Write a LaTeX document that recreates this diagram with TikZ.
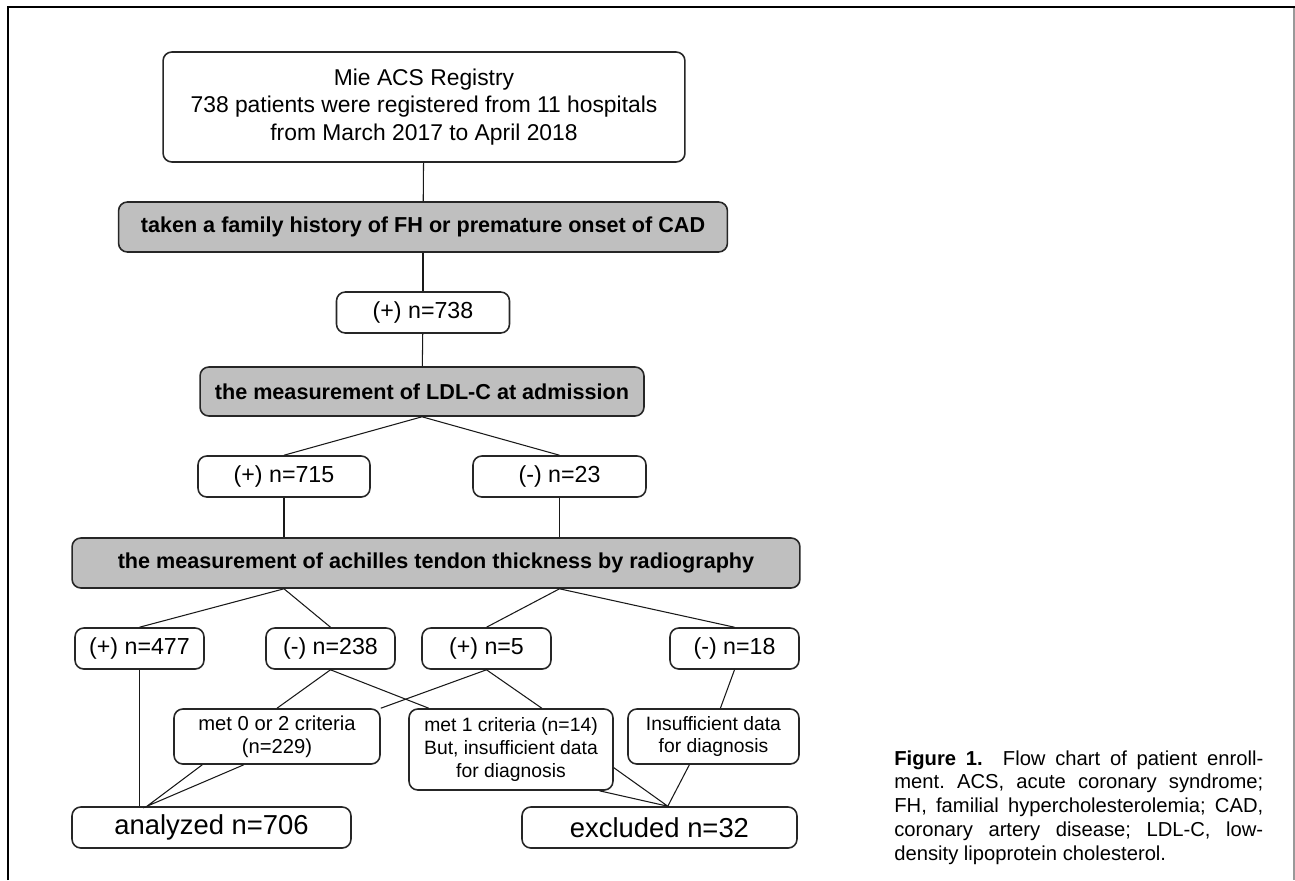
\documentclass[tikz,border=0pt]{standalone}
\usepackage{fontspec}
\setmainfont{Liberation Sans}
\usetikzlibrary{calc}

\tikzset{
  boite/.style={draw=black!85, line width=0.9pt, rounded corners=5pt, fill=white,
    align=center, inner sep=2pt, font=\fontsize{11}{13}\selectfont},
  grise/.style={boite, fill=black!25, font=\bfseries\fontsize{12.3}{14}\selectfont},
  effectif/.style={boite, minimum width=2.58cm, minimum height=0.82cm,
    font=\fontsize{13.2}{15}\selectfont},
  bilan/.style={boite, minimum height=0.82cm, font=\fontsize{15.6}{18}\selectfont},
  ligne/.style={line width=0.6pt, black!90}
}

\begin{document}
\begin{tikzpicture}[x=0.02cm,y=-0.02cm]
%					Cadre :
					\useasboundingbox (0,0) rectangle (1295,880);
					\fill[white] (0,0) rectangle (1295,880);
					\draw[line width=1.6pt] (8,880) -- (8,7) -- (1295,7);
					\draw[black!40, line width=0.6pt] (1294,8) -- (1294,880);
%					Registre et premiers tris :
					\node[boite, minimum width=10.44cm, minimum height=2.2cm,
					  font=\fontsize{13}{15.6}\selectfont] (registre) at (424,107)
					  {Mie ACS Registry\\738 patients were registered from 11 hospitals\\from March 2017 to April 2018};
					\node[grise, minimum width=12.18cm, minimum height=1cm] (famille) at (423,227)
					  {taken a family history of FH or premature onset of CAD};
					\node[effectif, minimum width=3.46cm] (p738) at (423,312.5) {(+) n=738};
					\node[grise, minimum width=8.88cm, minimum height=0.98cm] (ldl) at (422,391.5)
					  {the measurement of LDL-C at admission};
					\node[effectif, minimum width=3.44cm] (p715) at (284,476.5) {(+) n=715};
					\node[effectif, minimum width=3.46cm] (m23) at (559.5,476.5) {(-) n=23};
					\node[grise, minimum width=14.56cm, minimum height=1cm] (achille) at (436,563)
					  {the measurement of achilles tendon thickness by radiography};
%					Résultats de la radiographie :
					\node[effectif] (p477) at (139.5,648.5) {(+) n=477};
					\node[effectif] (m238) at (330.5,648.5) {(-) n=238};
					\node[effectif] (p5) at (486.5,648.5) {(+) n=5};
					\node[effectif] (m18) at (734.5,648.5) {(-) n=18};
					\node[boite, minimum width=4.12cm, minimum height=1.1cm,
					  font=\fontsize{11.5}{13}\selectfont] (crit02) at (277,736.5)
					  {met 0 or 2 criteria\\(n=229)};
					\node[boite, minimum width=4.08cm, minimum height=1.62cm] (crit1) at (511,749.5)
					  {met 1 criteria (n=14)\\But, insufficient data\\for diagnosis};
					\node[boite, minimum width=3.42cm, minimum height=1.1cm] (insuff) at (713.5,736.5)
					  {Insufficient data\\for diagnosis};
					\node[bilan, minimum width=5.58cm] (analyse) at (211.5,827.5) {analyzed n=706};
					\node[bilan, minimum width=5.5cm] (exclus) at (659.5,827.5) {excluded n=32};
%					Légende :
					\node[anchor=north west, inner sep=0pt, text width=7.38cm, align=justify,
					  font=\fontsize{11.5}{13.6}\selectfont] (legende) at (894,750)
					  {\frenchspacing\textbf{Figure 1.}\quad Flow chart of patient enroll-\linebreak
					  ment. ACS, acute coronary syndrome;\linebreak
					  FH, familial hypercholesterolemia; CAD,\linebreak
					  coronary artery disease; LDL-C, low-\linebreak
					  density lipoprotein cholesterol.};
%					Points de jonction :
					\coordinate (jA) at ($(analyse.north west)!0.27!(analyse.north east)$);
					\coordinate (jE) at ($(exclus.north west)!0.53!(exclus.north east)$);
%					Tracé des liaisons :
					\draw[ligne] (registre) -- (famille);
					\draw[ligne] (famille) -- (p738);
					\draw[ligne] (p738) -- (ldl);
					\draw[ligne] (p715.north) -- (ldl.south) -- (m23.north);
					\draw[ligne] (p715.south) -- (p715.south |- achille.north);
					\draw[ligne] (m23.south) -- (m23.south |- achille.north);
					\draw[ligne] (p477.north) -- (achille.south -| p715) -- (m238.north);
					\draw[ligne] (p5.north) -- (achille.south -| m23) -- (m18.north);
					\draw[ligne] (p477.south) -- (p477.south |- analyse.north);
					\draw[ligne] (crit02.north) -- (m238.south)
					  -- ($(crit1.north west)!0.1!(crit1.north east)$);
					\draw[ligne] (crit02.north east) -- (p5.south)
					  -- ($(crit1.north west)!0.65!(crit1.north east)$);
					\draw[ligne] (m18.south) -- ($(insuff.north west)!0.54!(insuff.north east)$);
					\draw[ligne] ($(crit02.south west)!0.14!(crit02.south east)$) -- (jA)
					  -- ($(crit02.south west)!0.34!(crit02.south east)$);
					\draw[ligne] ($(crit1.north east)!0.72!(crit1.south east)$) -- (jE)
					  -- ($(crit1.south west)!0.93!(crit1.south east)$);
					\draw[ligne] ($(insuff.south west)!0.36!(insuff.south east)$) -- (jE);
				\end{tikzpicture}
\end{document}
